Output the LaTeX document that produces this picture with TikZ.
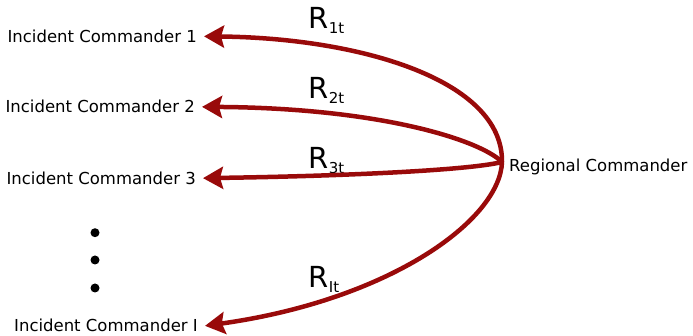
\documentclass[tikz,border=0pt]{standalone}
\usepackage{fontspec}
\setmainfont{DejaVu Sans}
\usetikzlibrary{arrows.meta}
\definecolor{arrowred}{RGB}{153,10,10}
\newcommand{\Rlab}[1]{{\fontsize{29}{29}\selectfont R}{\fontsize{15}{15}\selectfont\raisebox{-5pt}{#1}}}
\begin{document}
\begin{tikzpicture}[x=1pt,y=-1pt,
  ictext/.style={font=\fontsize{16.5}{18}\selectfont, inner xsep=7pt, inner ysep=2pt, anchor=base east},
  rctext/.style={font=\fontsize{16.5}{18}\selectfont, inner xsep=7pt, inner ysep=0pt, text height=20pt, text depth=0pt, anchor=base west},
  rlabel/.style={inner sep=0pt, anchor=base west},
  dotnode/.style={circle, fill=black, minimum size=9pt, inner sep=0pt},
  flow/.style={draw=arrowred, line width=4.5pt, -{Stealth[length=20pt,width=22pt,inset=3pt]}, fill=none}
]
\useasboundingbox (0,0) rectangle (693,336);

\node[ictext] (IC1) at (204,42.5) {Incident Commander 1};
\node[ictext] (IC2) at (202,113) {Incident Commander 2};
\node[ictext] (IC3) at (203,184.3) {Incident Commander 3};
\node[ictext] (ICI) at (205,332) {Incident Commander I};
\node[rctext] (RC) at (502,172) {Regional Commander};

\node[dotnode] (d1) at (95,232.7) {};
\node[dotnode] (d2) at (95,260) {};
\node[dotnode] (d3) at (95,288) {};

\node[rlabel] (R1) at (308.5,28.3) {\Rlab{1t}};
\node[rlabel] (R2) at (308.5,98.3) {\Rlab{2t}};
\node[rlabel] (R3) at (308.5,168.3) {\Rlab{3t}};
\node[rlabel] (RI) at (308.5,288) {\Rlab{It}};

\draw[flow] (RC.west) .. controls (503,80) and (360,38) .. (IC1.east);
\draw[flow] (RC.west) .. controls (480,140) and (380,108) .. (IC2.east);
\draw[flow] (RC.west) .. controls (470,170) and (350,176) .. (IC3.east);
\draw[flow] (RC.west) .. controls (500,220) and (390,300) .. (ICI.east);
\end{tikzpicture}
\end{document}
